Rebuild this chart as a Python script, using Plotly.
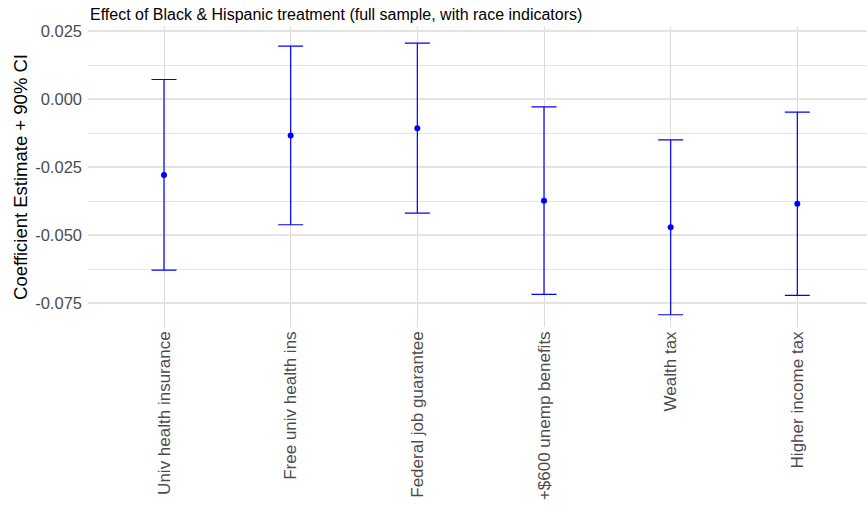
import plotly.graph_objects as go

# Policy outcomes and their estimated treatment effects with 90% CIs
policies = ["Univ health insurance", "Free univ health ins", "Federal job guarantee",
            "+$600 unemp benefits", "Wealth tax", "Higher income tax"]
estimate = [-0.0279, -0.0134, -0.0107, -0.0374, -0.0471, -0.0385]
ci_low = [-0.0629, -0.0462, -0.0419, -0.0718, -0.0793, -0.0722]
ci_high = [0.0072, 0.0195, 0.0206, -0.0029, -0.0150, -0.0048]

y_ticks = [0.025, 0.0, -0.025, -0.050, -0.075]
y_tick_text = ["0.025", "0.000", "-0.025", "-0.050", "-0.075"]

idx = list(range(len(policies)))
err_plus = [h - e for h, e in zip(ci_high, estimate)]
err_minus = [e - l for e, l in zip(estimate, ci_low)]

fig = go.Figure()
fig.add_trace(go.Scatter(
    x=idx, y=estimate, mode="markers",
    marker=dict(color="#0000FF", size=6),
    error_y=dict(type="data", array=err_plus, arrayminus=err_minus,
                 color="#0000FF", thickness=1.2, width=12.5),
    showlegend=False,
))

# Horizontal reference line at zero
fig.add_hline(y=0, line=dict(color="black", width=1.3), layer="below")

font_family = "Liberation Sans, Arial, sans-serif"
fig.update_layout(
    width=867, height=508,
    margin=dict(l=88, r=0, t=27, b=181),
    plot_bgcolor="white", paper_bgcolor="white",
    font=dict(family=font_family),
    title=dict(text="Effect of Black & Hispanic treatment (full sample, with race indicators)",
               x=90 / 867, xanchor="left", xref="container", y=1 - 14 / 508, yanchor="middle",
               font=dict(size=16, color="black", family=font_family)),
    xaxis=dict(
        range=[-0.6, 5.55], tickmode="array", tickvals=idx, ticktext=policies,
        tickangle=-90, showgrid=True, gridcolor="#dadada", gridwidth=1.3,
        zeroline=False, showline=False, ticks="",
        tickfont=dict(size=17, color="#4d4d4d"),
    ),
    yaxis=dict(
        range=[-0.0838, 0.0265], tickmode="array", tickvals=y_ticks, ticktext=y_tick_text,
        showgrid=True, gridcolor="#e3e3e3", gridwidth=2, zeroline=False, showline=False,
        ticks="", ticklabelstandoff=5, tickfont=dict(size=16.5, color="#4d4d4d"),
        minor=dict(tickmode="array", tickvals=[0.0125, -0.0125, -0.0375, -0.0625],
                   showgrid=True, gridcolor="#e3e3e3", gridwidth=1),
        title=dict(text="Coefficient Estimate + 90% CI", standoff=2,
                   font=dict(size=18.5, color="black")),
    ),
)

fig.write_html("out.html")
